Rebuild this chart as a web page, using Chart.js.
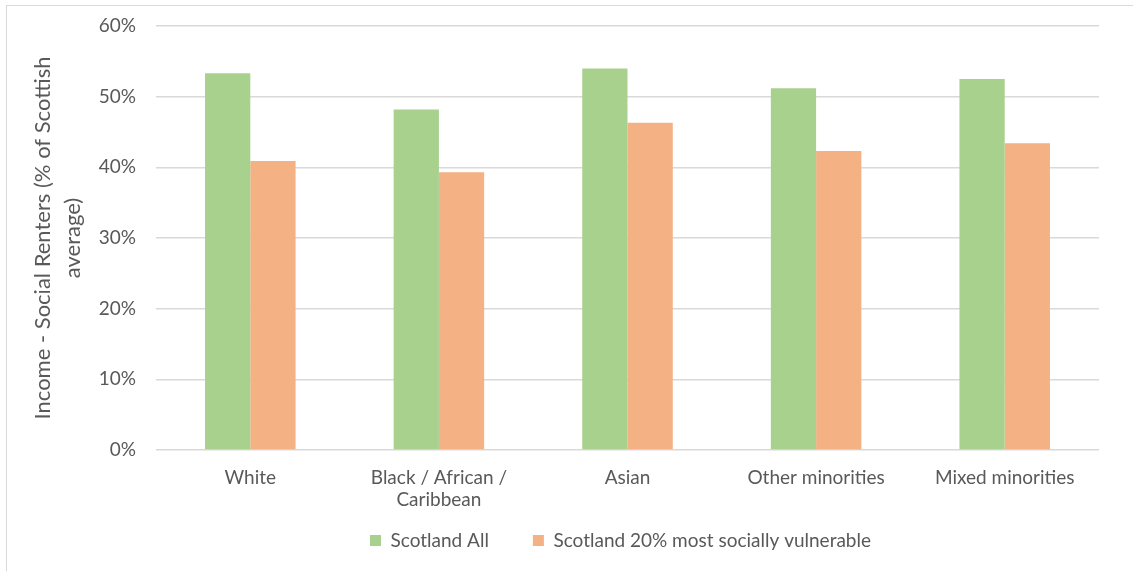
<!DOCTYPE html>
<html>
<head>
<meta charset="utf-8">
<script src="https://cdn.jsdelivr.net/npm/chart.js@4.4.1/dist/chart.umd.min.js"></script>
<style>
  html, body { margin: 0; padding: 0; background: #fff; overflow: hidden; }
  #frame {
    position: absolute; left: 6px; top: 5px; width: 1140px; height: 600px;
    border: 1px solid #d9d9d9; box-sizing: border-box;
  }
  #wrap { position: absolute; left: 0; top: 0; width: 1133px; height: 571px; }
</style>
</head>
<body>
<div id="frame"></div>
<div id="wrap"><canvas id="chart"></canvas></div>
<script>
// categories and values (share of Scottish average)
const categories = ["White", ["Black / African /", "Caribbean"], "Asian", "Other minorities", "Mixed minorities"];
const scotlandAll = [0.533, 0.482, 0.540, 0.512, 0.525];
const scotlandVulnerable = [0.409, 0.393, 0.463, 0.423, 0.434];
const seriesNames = ["Scotland All", "Scotland 20% most socially vulnerable"];
const yTicks = [0, 0.1, 0.2, 0.3, 0.4, 0.5, 0.6];

const GREEN = "#a9d18e";
const ORANGE = "#f4b183";
const TEXT = "#595959";
const GRID = "#d9d9d9";
const FONT = "Lato, 'Open Sans', sans-serif";

// legend sits centred under the plot area, not the whole canvas
const legendNudge = {
    id: "legendNudge",
    afterLayout(chart) {
        const lg = chart.legend;
        const ca = chart.chartArea;
        const dx = (ca.left + ca.right) / 2 - (lg.left + lg.right) / 2 - 7;
        const dy = -27;
        lg.left += dx; lg.right += dx;
        lg.top += dy; lg.bottom += dy;
    },
};

new Chart(document.getElementById("chart"), {
    type: "bar",
    data: {
        labels: categories,
        datasets: [
            { label: seriesNames[0], data: scotlandAll, backgroundColor: GREEN },
            { label: seriesNames[1], data: scotlandVulnerable, backgroundColor: ORANGE },
        ],
    },
    options: {
        responsive: true,
        maintainAspectRatio: false,
        animation: false,
        layout: { padding: { top: 26, right: 34, left: 0, bottom: -16 } },
        datasets: { bar: { categoryPercentage: 0.48, barPercentage: 1.0 } },
        scales: {
            x: {
                grid: { display: false },
                border: { display: false },
                ticks: {
                    color: TEXT,
                    font: { family: FONT, size: 19 },
                    padding: 8,
                    maxRotation: 0,
                    autoSkip: false,
                },
                afterFit(scale) { scale.height = 64; },
            },
            y: {
                min: 0,
                max: 0.6,
                afterBuildTicks(scale) { scale.ticks = yTicks.map((v) => ({ value: v })); },
                grid: { color: GRID, lineWidth: 1.5, drawTicks: false },
                border: { display: false },
                ticks: {
                    color: TEXT,
                    font: { family: FONT, size: 19 },
                    padding: 20,
                    callback: (v) => Math.round(v * 100) + "%",
                },
                title: {
                    display: true,
                    text: ["Income - Social Renters (% of Scottish", "average)"],
                    color: TEXT,
                    font: { family: FONT, size: 22, lineHeight: 1.35 },
                    padding: { top: 28, bottom: 0 },
                },
                afterFit(scale) {
                    scale.width = 156;
                    scale.paddingTop = 0;
                },
            },
        },
        plugins: {
            legend: {
                position: "bottom",
                labels: {
                    color: TEXT,
                    font: { family: FONT, size: 19 },
                    boxWidth: 11,
                    boxHeight: 11,
                    padding: 44,
                },
            },
            tooltip: { enabled: false },
        },
    },
    plugins: [legendNudge],
});
</script>
</body>
</html>
